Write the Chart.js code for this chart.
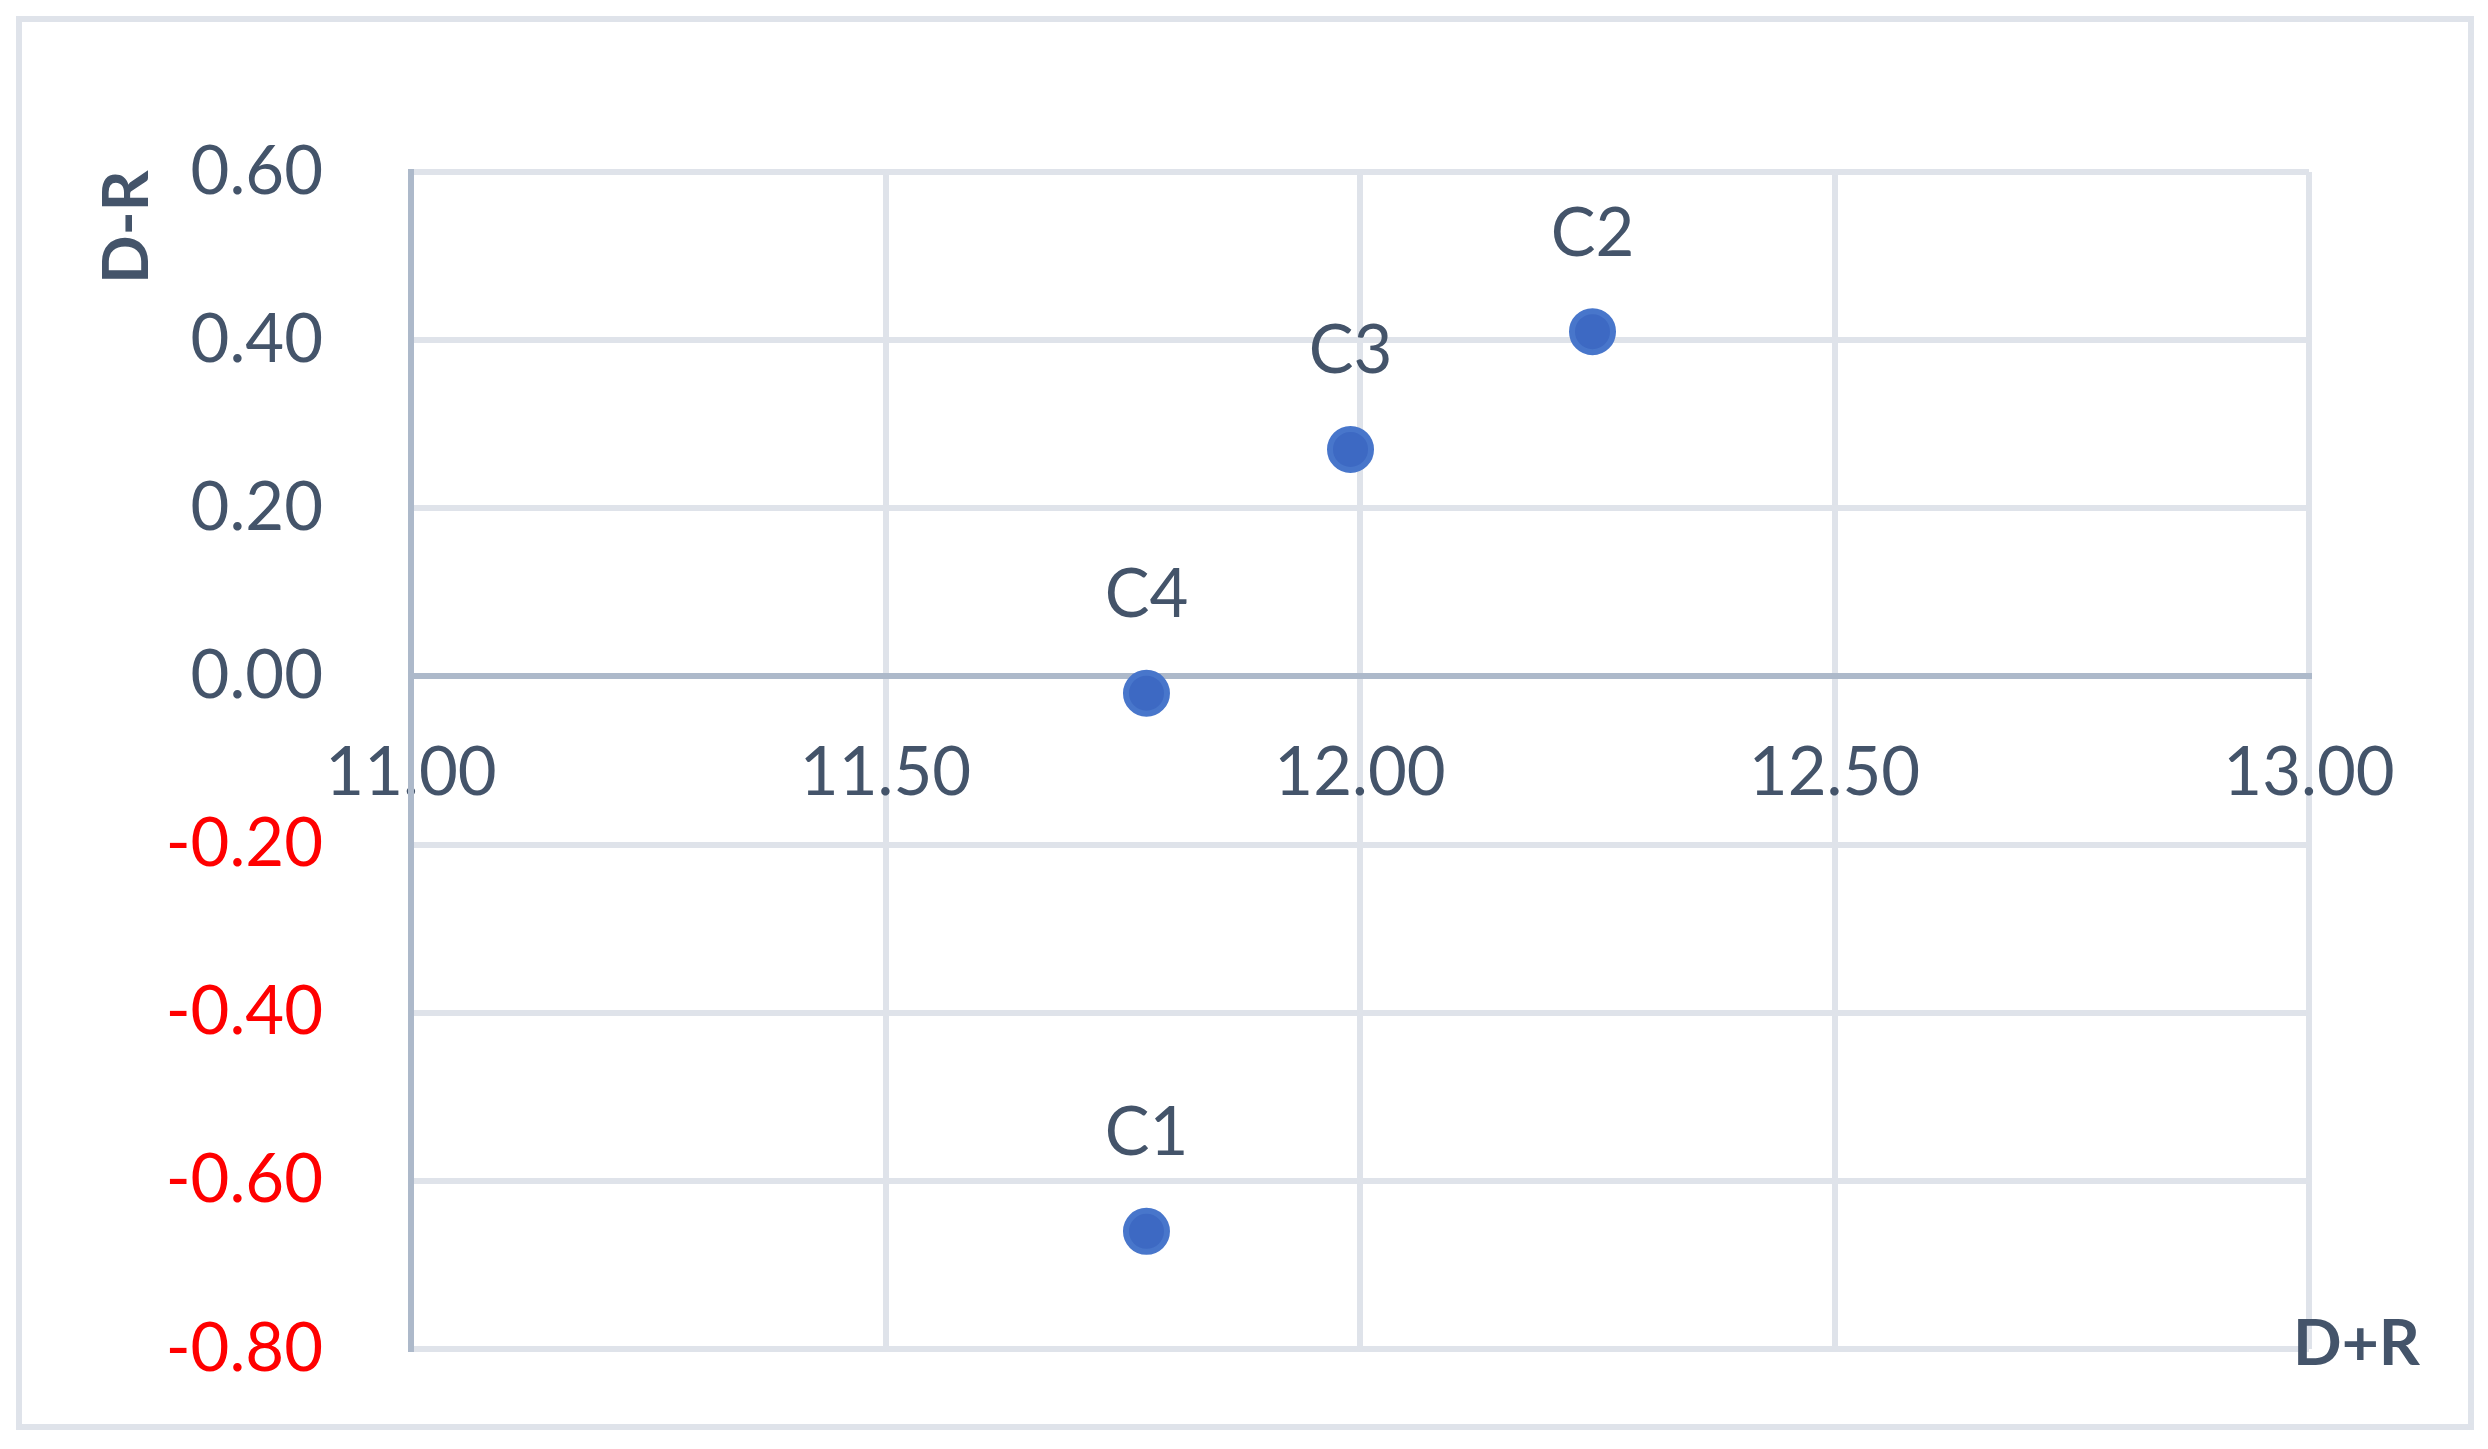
<!DOCTYPE html>
<html>
<head>
<meta charset="utf-8">
<script src="https://cdn.jsdelivr.net/npm/chart.js@4/dist/chart.umd.min.js"></script>
<style>
  html, body { margin: 0; padding: 0; background: #fff; }
  canvas { display: block; }
</style>
</head>
<body>
<canvas id="chart" width="2488" height="1449"></canvas>
<script>
// points (D+R, D-R)
const labels = ['C1', 'C2', 'C3', 'C4']
const sumDR = [11.775, 12.245, 11.99, 11.775]
const diffDR = [-0.66, 0.41, 0.27, -0.02]

const xTitle = 'D+R'
const yTitle = 'D-R'

const textColor = '#44546a'
const gridColor = '#dfe3ea'
const axisColor = '#adb9ca'

// white background + outer frame
const framePlugin = {
  id: 'frame',
  beforeDraw(chart) {
    const ctx = chart.ctx
    ctx.save()
    ctx.fillStyle = '#fff'
    ctx.fillRect(0, 0, chart.width, chart.height)
    ctx.strokeStyle = gridColor
    ctx.lineWidth = 6
    ctx.strokeRect(19, 19, 2452, 1408)
    ctx.restore()
  }
}

// point labels and axis titles
const labelPlugin = {
  id: 'pointLabels',
  afterDatasetsDraw(chart) {
    const ctx = chart.ctx
    const meta = chart.getDatasetMeta(0)
    ctx.save()
    ctx.fillStyle = textColor
    ctx.font = '67px Lato'
    ctx.textAlign = 'center'
    ctx.textBaseline = 'alphabetic'
    meta.data.forEach((pt, i) => {
      ctx.fillText(labels[i], pt.x, pt.y - 76)
    })

    const area = chart.chartArea
    ctx.font = 'bold 64px Lato'
    ctx.textAlign = 'left'
    ctx.fillText(xTitle, area.right - 16, area.bottom + 16)

    ctx.translate(148, area.top + 112)
    ctx.rotate(-Math.PI / 2)
    ctx.fillText(yTitle, 0, 0)
    ctx.restore()
  }
}

const fmt = v => (Math.abs(v) < 1e-9 ? 0 : Number(v)).toFixed(2)

const ctx = document.getElementById('chart').getContext('2d')
new Chart(ctx, {
  type: 'scatter',
  data: {
    datasets: [{
      label: 'Clusters',
      data: sumDR.map((x, i) => ({ x, y: diffDR[i] })),
      backgroundColor: '#3d69c3',
      borderColor: '#4876cb',
      borderWidth: 6,
      pointRadius: 20.5,
      pointHoverRadius: 20.5
    }]
  },
  options: {
    responsive: false,
    animation: false,
    devicePixelRatio: 1,
    layout: { padding: { top: 172, bottom: 100, right: 179, left: 0 } },
    plugins: {
      legend: { display: false },
      tooltip: { enabled: false }
    },
    scales: {
      x: {
        type: 'linear',
        position: { y: 0 },
        min: 11,
        max: 13,
        ticks: {
          stepSize: 0.5,
          padding: 57,
          color: textColor,
          font: { family: 'Lato', size: 67 },
          callback: fmt
        },
        grid: {
          drawTicks: false,
          lineWidth: 6,
          color: c => (c.tick && Math.abs(c.tick.value - 11) < 1e-9) ? axisColor : gridColor
        },
        border: { display: true, color: axisColor, width: 6 }
      },
      y: {
        type: 'linear',
        position: 'left',
        min: -0.8,
        max: 0.6,
        afterFit(scale) { scale.width = 411 },
        ticks: {
          stepSize: 0.2,
          padding: 0,
          font: { family: 'Lato', size: 67 },
          color: c => c.tick.value < -1e-9 ? '#ff0000' : textColor,
          callback: fmt
        },
        // invisible tick marks keep the labels away from the axis
        grid: {
          drawTicks: true,
          tickLength: 88,
          tickColor: 'rgba(0,0,0,0)',
          lineWidth: 6,
          color: c => (c.tick && Math.abs(c.tick.value) < 1e-9) ? axisColor : gridColor
        },
        border: { display: true, color: axisColor, width: 6 }
      }
    }
  },
  plugins: [framePlugin, labelPlugin]
})
</script>
</body>
</html>
